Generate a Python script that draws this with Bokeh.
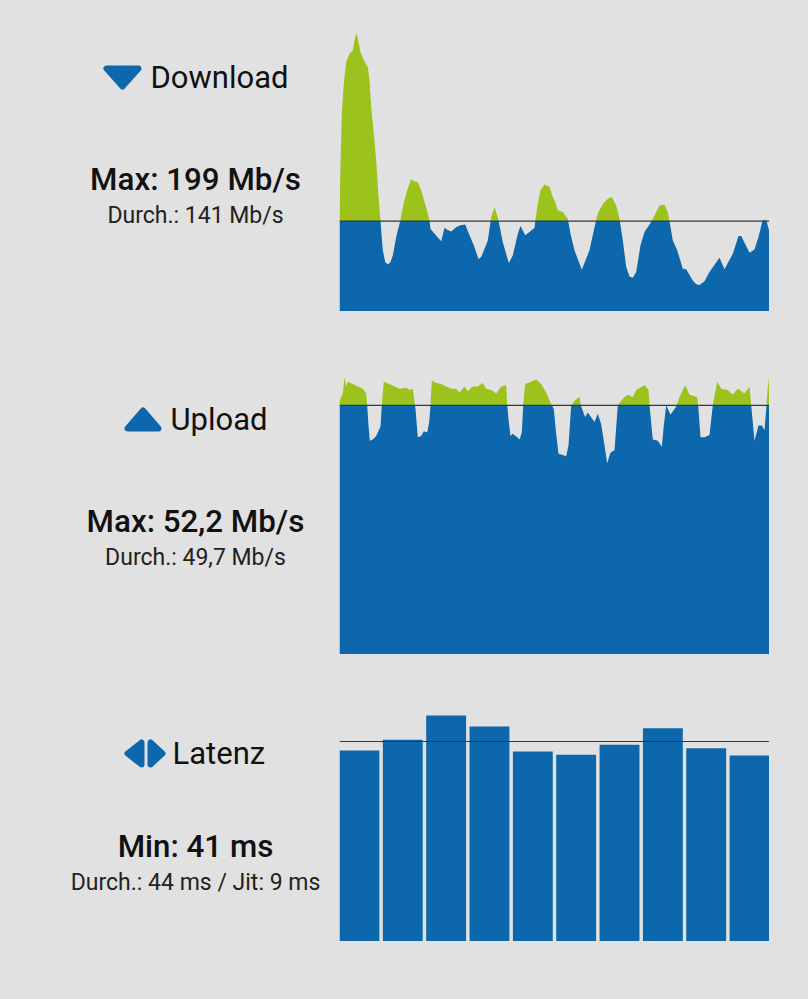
from bokeh.plotting import figure
from bokeh.layouts import row, column
from bokeh.models import Span
from bokeh.core.properties import value
from bokeh.embed import file_html
from bokeh.resources import INLINE

BG = "#e1e1e1"
BLUE = "#0d67ad"
GREEN = "#9bc31b"
LINE = "#2f3a40"
FONT = "Roboto"

# Download (Mb/s)
dl_time = [0,1,2.3,4.3,6.7,10,13.3,15,17,19,21,24.3,28.3,30,31.7,34.3,36.7,39,41,43.3,45.7,48.3,51,53.3,56.7,60.7,64,67.7,71.7,75,78.3,81.7,85,88.3,90,91,95,101.7,105,107.7,111.7,116.7,121,125.7,130,134.3,139,141.7,148.3,151.7,155,158.3,163.3,169.3,173.3,178.3,181,185.7,190,195,197.7,201,205,210,213.3,215,218.3,223.3,228.3,231,235,242.3,250,255,258.3,263.3,268.3,272.3,276.7,280,283.3,286.7,290,293.3,296.7,301,305,311.7,315,320,325,328.3,330.7,333.3,337.7,343.3,346.7,353.3,356.7,360,365,370,380,385,393.3,399,401.7,410,415,419,423.3,426.7,430]
dl_speed = [141,158.7,174.1,183.4,190,192.6,193.6,196.7,199.1,196.2,193.1,190.6,188.5,184.4,176.2,167.9,159.7,148.4,141,132,128.4,127.6,128.4,130.4,136.1,141,146.3,150.5,153.9,153.2,153,150.5,146.9,143.3,141,138.6,137.1,134.8,138.9,138.3,137.8,139.1,139.7,139.9,136.6,133.5,129.3,129.9,135,142.2,145.3,142.2,134.5,128.1,130.4,137.1,139.5,136.6,137.6,138.9,145.3,150.5,152.3,151.5,148.4,147.4,144.3,143.8,141.7,137.1,132,126,132,139.1,143.3,146.3,147.9,148.4,145.8,141.7,135,126.8,123.9,123.5,125.3,133.5,137.6,140.7,142.7,145.8,146,143.8,139.7,135,132,126.3,126.1,122.7,121.5,121.3,122.4,125.3,129.7,126.1,130.9,136.4,136.4,131.2,132.2,136.1,141.4,141.4,137.6]
dl_avg = 141.0

# Upload (Mb/s)
ul_time = [0,3.3,5,6.7,8.3,13.3,18.3,23.3,26.7,27.7,29,30.3,33.3,36.7,39.3,41,42.3,44.3,50,55,60,66.7,70,73.3,75,76,78.3,81.7,84.3,87.7,89.7,91,92.3,96.7,101.7,106.7,111.7,116.7,120,125,128.3,133.3,138.3,143.3,146.7,151.7,156.7,161.7,166.7,167.7,169.3,171,173.3,177.7,180,182.3,183.7,185.7,191.7,196.7,201.7,206.7,211.7,214.3,216.7,219,223.3,226.7,229,231.7,235,240,241.7,245.7,248.3,252.3,255,258.3,261.7,265,267.7,271,275,278.3,285,288.3,293.3,296.7,305,309,310,313.3,318.3,322.3,324.3,326.7,331,336.7,340,345.7,350,357.7,358.7,361,365,370,373.3,377.7,381.7,388.3,393.3,398.3,405,410,411.7,415,419,422.3,425,427,429,430]
ul_speed = [50.1,50.7,52.1,51.3,51.7,51.5,51.3,51.1,50.7,49.7,48,46.7,46.8,47.1,47.6,47.9,49.7,51.7,51.5,51.3,51.1,51.2,51,51.1,50,49.4,47,47.1,47.5,47.4,48.3,49.7,51.8,51.6,51.5,51.3,51.1,51.1,50.8,51.3,50.9,51.3,51.3,51.6,51.1,51,50.7,51.3,51.4,49.7,48.3,47.1,47.3,47,46.8,47.4,49.7,51.5,51.7,51.9,51.5,50.8,49.8,49.4,47.3,45.6,45.5,45.4,46.3,49.7,50.1,50.4,49.6,48.7,49.1,48.6,48.3,49,48.1,46.3,44.8,45.7,45.9,49.7,50.4,50.6,50.4,51,51.4,51,49.7,46.8,46.7,46.2,48,49.7,48.9,49.6,50.4,51.4,50.6,50.4,49.7,47,47,47.2,49.7,51.7,51.1,51,50.6,51.1,50.7,51.3,49.7,46.7,48,48,47.6,49.7,52.1,49.7]
ul_avg = 49.7

# Latenz (ms)
lat_index = [0,1,2,3,4,5,6,7,8,9]
lat_ms = [42.0,44.4,49.7,47.3,41.8,41.1,43.3,46.9,42.5,40.9]
lat_avg = 44.0

def split(t, v, avg):
    xs, ys = [t[0]], [v[0]]
    for i in range(1, len(t)):
        a, b = v[i-1] - avg, v[i] - avg
        if a * b < 0:
            xs.append(t[i-1] + (t[i] - t[i-1]) * a / (a - b))
            ys.append(avg)
        xs.append(t[i])
        ys.append(v[i])
    return xs, [min(y, avg) for y in ys], [max(y, avg) for y in ys]

def panel(h, xr, yr):
    p = figure(width=430, height=h, x_range=xr, y_range=yr, output_backend="svg",
               toolbar_location=None, min_border=0, outline_line_color=None,
               background_fill_color=BG, border_fill_color=BG)
    p.axis.visible = False
    p.grid.visible = False
    return p

def area_panel(h, yr, t, v, avg):
    p = panel(h, (0, 430), yr)
    xs, lo, hi = split(t, v, avg)
    p.varea(xs, [yr[0]] * len(xs), lo, fill_color=BLUE)
    p.varea(xs, [avg] * len(xs), hi, fill_color=GREEN)
    p.add_layout(Span(location=avg, dimension="width", line_color=LINE, line_width=1.2))
    return p

p_dl = area_panel(311, (113.1, 209.04), dl_time, dl_speed, dl_avg)
p_ul = area_panel(343, (28.6, 57.65), ul_time, ul_speed, ul_avg)
p_lat = panel(287, (-0.46, 9.46), (0, 63.14))
p_lat.vbar(lat_index, 0.92, lat_ms, 0, fill_color=BLUE, line_color=None)
p_lat.add_layout(Span(location=lat_avg, dimension="width", line_color=LINE, line_width=1.2))

side = figure(width=339, height=941, x_range=(1, 340), y_range=(941, 0), output_backend="svg",
              toolbar_location=None, min_border=0, outline_line_color=None,
              background_fill_color=BG, border_fill_color=BG)
side.axis.visible = False
side.grid.visible = False

headings = [("Download", 151, 77), ("Upload", 171, 419), ("Latenz", 173, 753)]
for txt, x, y in headings:
    side.text([x], [y], text=[txt], text_font=value(FONT), text_font_size="31px",
              text_color="#111111", text_align="left", text_baseline="middle")

main = [("Max: 199 Mb/s", 196, 179), ("Max: 52,2 Mb/s", 196, 521), ("Min: 41 ms", 196, 846)]
for txt, x, y in main:
    side.text([x], [y], text=[txt], text_font=value("Roboto Medium"), text_font_size="31.3px",
              text_color="#111111", text_align="center", text_baseline="middle")

sub = [("Durch.: 141 Mb/s", 196, 215), ("Durch.: 49,7 Mb/s", 196, 557), ("Durch.: 44 ms / Jit: 9 ms", 196, 882)]
for txt, x, y in sub:
    side.text([x], [y], text=[txt], text_font=value(FONT), text_font_size="23px",
              text_color="#222222", text_align="center", text_baseline="middle")

icons = [
    ([107, 139, 123], [68, 68, 86]),
    ([128, 159, 143.5], [428, 428, 410]),
    ([142, 142, 128], [742, 764, 753]),
    ([151, 151, 163], [742, 764, 753]),
]
for xs, ys in icons:
    side.patch(xs, ys, fill_color=BLUE, line_color=BLUE, line_width=6, line_join="round")

page = row(side, column(p_dl, p_ul, p_lat))
html = file_html(page, INLINE)
html = html.replace("<head>", "<head><style>html,body{background:%s}</style>" % BG, 1)
open("out.html", "w").write(html)
